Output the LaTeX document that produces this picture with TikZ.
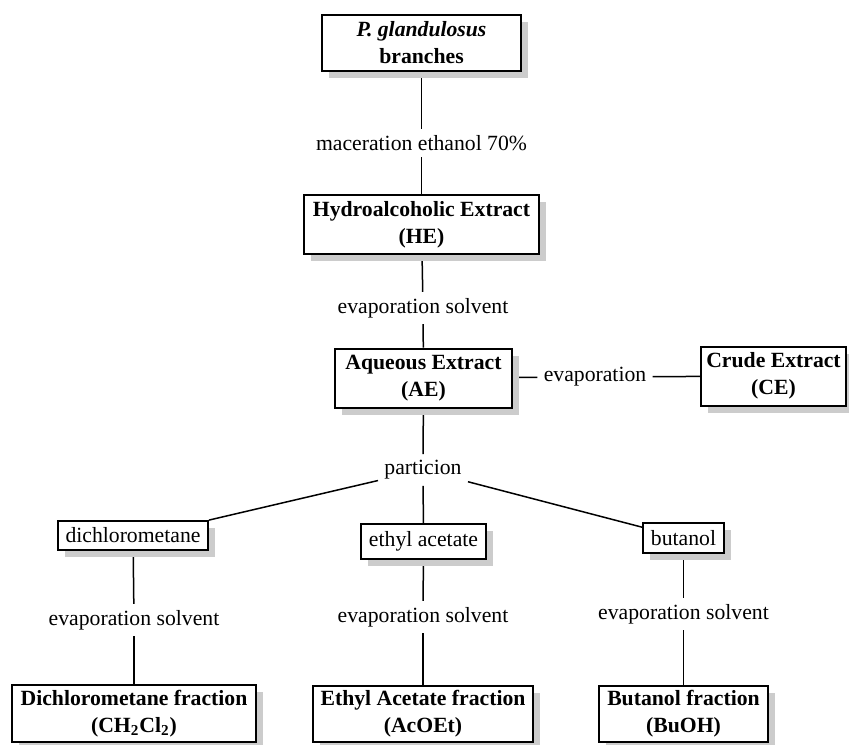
\documentclass[tikz,border=0pt]{standalone}
\usepackage{fontspec}
\setmainfont{Liberation Serif}
\usetikzlibrary{shadows,backgrounds}

\newcommand{\diagfont}{\fontsize{10.85}{13.5}\selectfont}
\tikzstyle{greyshadow} = [drop shadow={shadow xshift=3.5pt,shadow yshift=-3.5pt,fill=black!20,opacity=1}]
\tikzstyle{stepbox} = [draw,line width=1pt,fill=white,align=center,font=\diagfont\bfseries,inner xsep=2pt,inner ysep=1pt,greyshadow]
\tikzstyle{solventbox} = [draw,line width=0.9pt,fill=white,font=\diagfont,inner xsep=2pt,inner ysep=1pt,greyshadow]
\tikzstyle{steplabel} = [font=\diagfont,inner sep=3pt]
\tikzstyle{link} = [line width=0.75pt]

\begin{document}
\begin{tikzpicture}[x=0.5pt,y=-0.5pt]
		\useasboundingbox (0,0) rectangle (849,744);
		\node[stepbox,minimum width=99.5pt,minimum height=28pt] (pg) at (421.5,43) {\textit{P. glandulosus}\\branches};
		\node[stepbox,minimum width=117.5pt,minimum height=29.5pt] (he) at (421.5,224.5) {Hydroalcoholic Extract\\(HE)};
		\node[stepbox,minimum width=88.5pt,minimum height=29.5pt] (ae) at (423.5,378) {Aqueous Extract\\(AE)};
		\node[stepbox,minimum width=72.5pt,minimum height=29.5pt] (ce) at (773.5,376) {Crude Extract\\(CE)};
		\node[solventbox,minimum width=75pt,minimum height=14.5pt] (dcm) at (133,535.5) {dichlorometane};
		\node[solventbox,minimum width=62.5pt,minimum height=17.5pt] (eta) at (423.5,541.5) {ethyl acetate};
		\node[solventbox,minimum width=40.5pt,minimum height=15pt] (but) at (683.5,538) {butanol};
		\node[stepbox,minimum width=122pt,minimum height=28.5pt] (dcmf) at (134,713.5) {Dichlorometane fraction\\(CH\textsubscript{2}Cl\textsubscript{2})};
		\node[stepbox,minimum width=110pt,minimum height=28pt] (etaf) at (423,714) {Ethyl Acetate fraction\\(AcOEt)};
		\node[stepbox,minimum width=84.5pt,minimum height=28pt] (butf) at (683.5,714) {Butanol fraction\\(BuOH)};
		% step labels
		\node[steplabel] (mac) at (421.5,143) {maceration ethanol 70\%};
		\node[steplabel] (ev1) at (423,308) {evaporation solvent};
		\node[steplabel] (ev) at (595,377) {evaporation};
		\node[steplabel] (part) at (423,470) {particion};
		\node[steplabel] (ev2) at (134,620) {evaporation solvent};
		\node[steplabel] (ev3) at (423,617) {evaporation solvent};
		\node[steplabel] (ev4) at (683.5,614) {evaporation solvent};
		\begin{pgfonlayer}{background}
		\draw[link] (pg) -- (mac);
		\draw[link] (mac) -- (he);
		\draw[link] (he) -- (ev1);
		\draw[link] (ev1) -- (ae);
		\draw[link] (ae) -- (ev);
		\draw[link] (ev) -- (ce);
		\draw[link] (ae) -- (part);
		\draw[link] (part) -- (dcm.north east);
		\draw[link] (part) -- (eta);
		\draw[link] (part) -- (but);
		\draw[link] (dcm) -- (ev2);
		\draw[link] (ev2) -- (dcmf);
		\draw[link] (eta) -- (ev3);
		\draw[link] (ev3) -- (etaf);
		\draw[link] (but) -- (ev4);
		\draw[link] (ev4) -- (butf);
		\end{pgfonlayer}
		\end{tikzpicture}
\end{document}
